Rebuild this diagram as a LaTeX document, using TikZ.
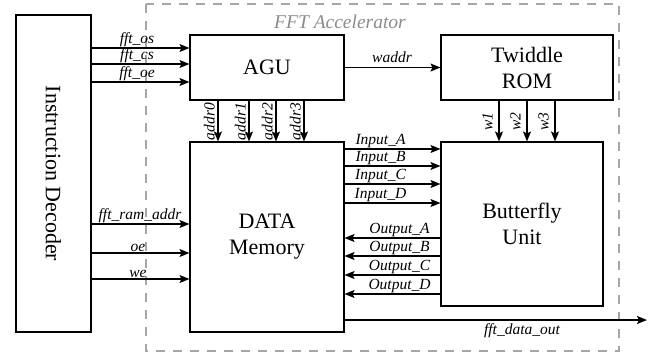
\documentclass[tikz,border=0pt]{standalone}
\usepackage{fontspec}
\setmainfont{Liberation Serif}
\usetikzlibrary{arrows.meta}

\tikzset{
  block/.style={draw, line width=1.1pt, inner sep=0pt, align=center,
                font=\fontsize{22}{26}\selectfont},
  sig/.style={line width=1.4pt, -{Stealth[length=10pt,width=8pt,inset=2pt]}},
  lbl/.style={font=\fontsize{15.5}{18}\selectfont\itshape, inner sep=1pt},
  region/.style={draw=black!35, line width=2pt, dash pattern=on 9pt off 8pt},
}

\begin{document}
\begin{tikzpicture}[x=1pt, y=-1pt]
  \useasboundingbox (0,0) rectangle (662,353);

  % accelerator region
  \draw[region] (146,4) rectangle (619,351);
  \node[font=\fontsize{19.5}{22}\selectfont\itshape, text=black!45] (acc) at (340,22) {FFT Accelerator};

  % blocks
  \node[block, minimum width=75pt, minimum height=317pt] (dec) at (53.5,173.5) {};
  \node[font=\fontsize{22}{26}\selectfont, rotate=-90] (dectext) at (dec.center) {Instruction Decoder};
  \node[block, minimum width=154pt, minimum height=65pt] (agu) at (267,67.5) {AGU};
  \node[block, minimum width=172pt, minimum height=65pt] (rom) at (527,67.5) {Twiddle\\ROM};
  \node[block, minimum width=154pt, minimum height=190pt] (mem) at (267,237) {DATA\\Memory};
  \node[block, minimum width=162pt, minimum height=164pt] (bfly) at (522,224) {Butterfly\\Unit};

  % helper rows and columns
  \coordinate (r1) at (0,48);
  \coordinate (r2) at (0,64);
  \coordinate (r3) at (0,82);
  \coordinate (r4) at (0,224);
  \coordinate (r5) at (0,253);
  \coordinate (r6) at (0,279);
  \coordinate (ia) at (0,149);
  \coordinate (ib) at (0,166);
  \coordinate (ic) at (0,184);
  \coordinate (id) at (0,203);
  \coordinate (oa) at (0,238);
  \coordinate (ob) at (0,256);
  \coordinate (oc) at (0,275);
  \coordinate (od) at (0,294);
  \coordinate (c0) at (218,0);
  \coordinate (c1) at (249,0);
  \coordinate (c2) at (276,0);
  \coordinate (c3) at (304,0);
  \coordinate (w1) at (499,0);
  \coordinate (w2) at (527,0);
  \coordinate (w3) at (555,0);
  \coordinate (dout) at (647,320);

  % decoder to AGU
  \draw[sig] (dec.east |- r1) -- (agu.west |- r1);
  \draw[sig] (dec.east |- r2) -- (agu.west |- r2);
  \draw[sig] (dec.east |- r3) -- (agu.west |- r3);
  \node[lbl, anchor=south] (l1) at (137,48) {fft\_os};
  \node[lbl, anchor=south] (l2) at (137,64) {fft\_cs};
  \node[lbl, anchor=south] (l3) at (137,82) {fft\_oe};

  % decoder to memory
  \draw[sig] (dec.east |- r4) -- (mem.west |- r4);
  \draw[sig] (dec.east |- r5) -- (mem.west |- r5);
  \draw[sig] (dec.east |- r6) -- (mem.west |- r6);
  \node[lbl, anchor=south] (l4) at (140,224) {fft\_ram\_addr};
  \node[lbl, anchor=south] (l5) at (138,253) {oe};
  \node[lbl, anchor=south] (l6) at (138,279) {we};

  % AGU to twiddle ROM
  \draw[sig] (agu.east) -- (rom.west);
  \node[lbl, anchor=south] (lw) at (392,64) {waddr};

  % AGU address buses
  \foreach \c/\t in {c0/addr0, c1/addr1, c2/addr2, c3/addr3}{
    \draw[sig] (agu.south -| \c) -- (mem.north -| \c);
    \node[lbl, rotate=90, anchor=south] at ([xshift=-2pt, yshift=-21pt]agu.south -| \c) {\t};
  }

  % twiddle factors
  \foreach \c/\t in {w1/w1, w2/w2, w3/w3}{
    \draw[sig] (rom.south -| \c) -- (bfly.north -| \c);
    \node[lbl, rotate=90, anchor=south] at ([xshift=-5pt, yshift=-21pt]rom.south -| \c) {\t};
  }

  % memory to butterfly
  \foreach \r/\t in {ia/A, ib/B, ic/C, id/D}{
    \draw[sig] (mem.east |- \r) -- (bfly.west |- \r);
    \node[lbl, anchor=south] at ([xshift=36pt]mem.east |- \r) {Input\_\t};
  }

  % butterfly back to memory
  \foreach \r/\t in {oa/A, ob/B, oc/C, od/D}{
    \draw[sig] (bfly.west |- \r) -- (mem.east |- \r);
    \node[lbl, anchor=south] at ([xshift=55pt]mem.east |- \r) {Output\_\t};
  }

  % data output
  \draw[sig] (mem.east |- dout) -- (dout);
  \node[lbl, anchor=north] (lo) at (522,322) {fft\_data\_out};
\end{tikzpicture}
\end{document}
